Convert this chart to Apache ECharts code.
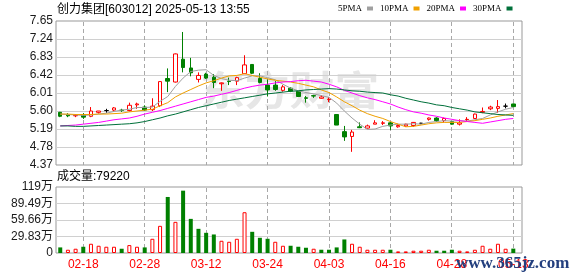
<!DOCTYPE html>
<html><head><meta charset="utf-8">
<script src="https://cdn.jsdelivr.net/npm/echarts@6/dist/echarts.min.js"></script>
<style>html,body{margin:0;padding:0;background:#fff}#c{width:578px;height:276px}</style>
</head><body><div id="c"></div>
<script>
const dates = ['02-13','02-14','02-17','02-18','02-19','02-20','02-21','02-24','02-25','02-26','02-27','02-28',
'03-03','03-04','03-05','03-06','03-07','03-10','03-11','03-12','03-13','03-14','03-17','03-18','03-19','03-20','03-21',
'03-24','03-25','03-26','03-27','03-28','03-31','04-01','04-02','04-03','04-07','04-08','04-09','04-10','04-11',
'04-14','04-15','04-16','04-17','04-18','04-21','04-22','04-23','04-24','04-25','04-28','04-29','04-30',
'05-06','05-07','05-08','05-09','05-12','05-13'];
const openP  = [5.57,5.52,5.49,5.52,5.48,5.57,5.61,5.62,5.62,5.61,5.74,5.69,5.63,5.72,6.34,6.26,6.78,6.58,6.32,6.44,
6.37,6.22,6.28,6.28,6.45,6.66,6.34,6.19,6.19,6.07,6.12,6.05,5.90,5.95,5.89,5.86,5.52,5.13,5.02,5.24,
5.21,5.30,5.32,5.33,5.24,5.26,5.27,5.32,5.41,5.44,5.38,5.36,5.30,5.40,5.43,5.57,5.65,5.66,5.71,5.76];
const closeP = [5.48,5.49,5.50,5.46,5.60,5.60,5.61,5.67,5.61,5.73,5.76,5.62,5.71,6.27,6.28,6.90,6.59,6.47,6.41,6.35,
6.25,6.24,6.27,6.36,6.65,6.46,6.25,6.08,6.09,6.15,6.05,5.93,5.89,5.94,5.92,5.87,5.28,5.01,5.12,5.22,
5.26,5.33,5.33,5.26,5.27,5.30,5.34,5.32,5.44,5.38,5.43,5.30,5.33,5.41,5.53,5.59,5.69,5.70,5.71,5.70];
const lowP   = [5.46,5.46,5.46,5.42,5.46,5.54,5.56,5.58,5.58,5.59,5.65,5.60,5.60,5.69,6.03,6.25,6.48,6.39,6.25,6.33,
6.12,6.06,6.19,6.19,6.44,6.44,6.23,5.93,6.06,6.04,6.03,5.92,5.79,5.90,5.88,5.80,5.28,4.92,4.67,5.21,
5.20,5.30,5.28,5.17,5.22,5.24,5.24,5.30,5.38,5.35,5.34,5.29,5.27,5.36,5.42,5.55,5.62,5.56,5.66,5.69];
const highP  = [5.58,5.55,5.53,5.55,5.69,5.60,5.65,5.69,5.65,5.79,5.79,5.73,5.89,6.27,6.57,6.91,7.40,6.81,6.48,6.47,
6.44,6.25,6.36,6.38,6.87,6.67,6.46,6.32,6.28,6.19,6.14,6.06,5.94,5.97,5.96,5.92,5.52,5.26,5.17,5.34,
5.29,5.39,5.37,5.35,5.31,5.31,5.35,5.33,5.45,5.46,5.45,5.37,5.41,5.46,5.54,5.68,5.72,5.85,5.77,5.77];
const ma5  = [5.53,5.52,5.51,5.50,5.51,5.53,5.55,5.59,5.62,5.64,5.68,5.68,5.69,5.82,5.93,6.16,6.35,6.50,6.53,6.54,
6.41,6.34,6.30,6.29,6.35,6.40,6.40,6.36,6.31,6.21,6.12,6.06,6.02,5.99,5.95,5.91,5.78,5.60,5.44,5.30,
5.18,5.19,5.25,5.28,5.30,5.30,5.31,5.30,5.34,5.36,5.38,5.37,5.38,5.37,5.40,5.43,5.51,5.58,5.64,5.68];
const ma10 = [5.53,5.53,5.52,5.52,5.52,5.53,5.53,5.54,5.55,5.58,5.60,5.62,5.64,5.72,5.79,5.92,6.01,6.09,6.17,6.24,
6.29,6.35,6.40,6.41,6.45,6.41,6.37,6.33,6.30,6.28,6.26,6.23,6.19,6.15,6.08,6.02,5.92,5.81,5.72,5.62,
5.54,5.48,5.43,5.36,5.30,5.24,5.25,5.28,5.31,5.33,5.34,5.34,5.34,5.36,5.38,5.41,5.44,5.48,5.51,5.54];
const ma20 = [5.26,5.27,5.28,5.30,5.32,5.34,5.37,5.40,5.42,5.44,5.48,5.53,5.57,5.61,5.66,5.71,5.76,5.81,5.86,5.91,
5.94,5.98,6.02,6.07,6.12,6.16,6.19,6.21,6.24,6.26,6.27,6.29,6.30,6.28,6.26,6.21,6.15,6.07,6.01,5.95,
5.90,5.86,5.81,5.76,5.69,5.63,5.58,5.55,5.51,5.48,5.44,5.41,5.38,5.36,5.34,5.32,5.35,5.38,5.41,5.43];
const ma30 = [5.26,5.26,5.25,5.25,5.26,5.27,5.28,5.29,5.30,5.31,5.33,5.36,5.40,5.44,5.49,5.53,5.58,5.63,5.68,5.72,
5.76,5.80,5.84,5.87,5.90,5.93,5.96,5.99,6.01,6.03,6.05,6.06,6.08,6.09,6.10,6.11,6.10,6.08,6.06,6.05,
6.03,6.02,6.01,5.97,5.94,5.89,5.85,5.81,5.78,5.74,5.72,5.68,5.65,5.62,5.58,5.56,5.54,5.52,5.51,5.50];
const volume = [10.1,5.9,7.7,11.3,16.7,13.1,11.3,11.3,7.7,14.3,11.3,10.1,25.7,49.1,101.3,56.3,112.7,61.7,43.7,36.5,
33.5,22.1,20.3,25.7,73.7,38.3,27.5,25.7,20.3,13.1,13.1,11.3,9.5,7.7,5.9,5.9,10.1,24.5,16.7,11.3,
5.9,5.9,5.9,5.9,2.9,2.9,4.1,4.1,5.9,4.1,4.1,5.9,4.1,2.9,5.9,13.1,7.7,16.7,7.7,7.92];
const volUp = [0,1,1,0,1,1,1,1,0,1,1,0,1,1,0,1,0,0,0,0,0,1,1,1,1,0,0,0,1,1,
0,0,0,1,0,0,0,0,1,1,1,1,1,0,1,1,1,1,1,0,0,0,1,1,1,1,1,1,1,0];
const priceTicks = ['4.37','4.78','5.19','5.60','6.01','6.42','6.83','7.24','7.65'];
const volTicks = ['0','29.83万','59.66万','89.49万','119万'];
const priceMin = 4.37, priceMax = 7.65, volMax = 119.32;
const maNames = ['5PMA','10PMA','20PMA','30PMA'];

const chart = echarts.init(document.getElementById('c'), null, {renderer: 'canvas'});
const FONT = 'Liberation Sans, Arial, Noto Sans CJK SC, sans-serif';
const BG_L = 56, BG_R = 56;
const PL = 56.4, BW = 7.679;
const PR = 578 - PL - dates.length * BW;
const labelEvery = (i) => i % 8 === 3;
const labelDates = dates.filter((d, i) => labelEvery(i));

const grids = [
  {left: BG_L, right: BG_R, top: 21, height: 144, show: true, borderColor: '#999', borderWidth: 1, backgroundColor: 'transparent', outerBoundsMode: 'none'},
  {left: BG_L, right: BG_R, top: 187, height: 66, show: true, borderColor: '#999', borderWidth: 1, backgroundColor: 'transparent', outerBoundsMode: 'none'},
  {left: PL, right: PR, top: 21, height: 144, outerBoundsMode: 'none'},
  {left: PL, right: PR, top: 187, height: 66, outerBoundsMode: 'none'}
];

const texts = [
  {type: 'text', x: 57, y: 10, z: 10, style: {text: '创力集团[603012] 2025-05-13 13:55', font: '12px Liberation Sans, Noto Sans CJK SC, sans-serif', fill: '#000', verticalAlign: 'middle'}},
  {type: 'text', x: 57, y: 177, z: 10, style: {text: '成交量:79220', font: '12px Liberation Sans, Noto Sans CJK SC, sans-serif', fill: '#000', verticalAlign: 'middle'}},
  {type: 'text', x: 200, y: 90, z: 0, scaleX: 1.12, style: {text: '东方财富', font: 'bold 40px Noto Sans CJK SC, sans-serif', fill: '#e6e6e6', verticalAlign: 'middle'}},
  {type: 'text', x: 456, y: 264, z: 100, style: {text: 'www.365jz.com', font: 'bold 17px Liberation Serif, serif', fill: '#233f7e', verticalAlign: 'middle'}}
];

const option = {
  animation: false,
  backgroundColor: '#fff',
  grid: grids,
  legend: {
    data: maNames, left: 338, top: 4, align: 'right', icon: 'rect', itemWidth: 6, itemHeight: 4, itemGap: 7,
    selectedMode: false, padding: 0,
    textStyle: {fontSize: 9, fontFamily: 'Liberation Serif, serif', color: '#000'}
  },
  xAxis: [
    {gridIndex: 0, type: 'value', min: 0, max: 1, show: false, splitLine: {show: false}},
    {gridIndex: 1, type: 'value', min: 0, max: 1, show: false, splitLine: {show: false}},
    {gridIndex: 2, type: 'category', data: dates, boundaryGap: true, axisLine: {show: false},
      axisLabel: {show: false}, axisTick: {show: false}, splitLine: {show: false}},
    {gridIndex: 3, type: 'category', data: dates, boundaryGap: true, axisLine: {show: false},
      axisTick: {show: false}, splitLine: {show: false},
      axisLabel: {show: true, interval: labelEvery, color: '#ff0000', fontSize: 12, fontFamily: FONT, margin: 6, hideOverlap: false}}
  ],
  yAxis: [
    {gridIndex: 0, type: 'value', min: 0, max: 8, interval: 1, axisLine: {show: false}, axisTick: {show: false},
      splitLine: {show: true, showMinLine: false, showMaxLine: false, lineStyle: {color: '#d0d0d0', width: 1}},
      axisLabel: {formatter: (v) => priceTicks[v], color: '#1a1a1a', fontSize: 12, fontFamily: FONT, margin: 3}},
    {gridIndex: 1, type: 'value', min: 0, max: 4, interval: 1, axisLine: {show: false}, axisTick: {show: false},
      splitLine: {show: true, showMinLine: false, showMaxLine: false, lineStyle: {color: '#d0d0d0', width: 1}},
      axisLabel: {formatter: (v) => volTicks[v], color: '#1a1a1a', fontSize: 12, fontFamily: FONT, margin: 3}},
    {gridIndex: 2, type: 'value', min: priceMin, max: priceMax, show: false, splitLine: {show: false}},
    {gridIndex: 3, type: 'value', min: 0, max: volMax, show: false, splitLine: {show: false}}
  ],
  graphic: texts,
  series: [
    {type: 'candlestick', name: 'K', xAxisIndex: 2, yAxisIndex: 2, barWidth: 4, z: 3,
      data: dates.map((d, i) => [openP[i], closeP[i], lowP[i], highP[i]]),
      itemStyle: {color: '#ffffff', color0: '#008000', borderColor: '#ff0000', borderColor0: '#008000', borderColorDoji: '#000000', borderWidth: 1}},
    {type: 'line', name: maNames[0], xAxisIndex: 2, yAxisIndex: 2, data: ma5, symbol: 'none', showSymbol: false, color: '#a0a0a0', lineStyle: {color: '#a0a0a0', width: 1}, z: 4},
    {type: 'line', name: maNames[1], xAxisIndex: 2, yAxisIndex: 2, data: ma10, symbol: 'none', showSymbol: false, color: '#f0a000', lineStyle: {color: '#f0a000', width: 1}, z: 4},
    {type: 'line', name: maNames[2], xAxisIndex: 2, yAxisIndex: 2, data: ma20, symbol: 'none', showSymbol: false, color: '#ff00ff', lineStyle: {color: '#ff00ff', width: 1}, z: 4},
    {type: 'line', name: maNames[3], xAxisIndex: 2, yAxisIndex: 2, data: ma30, symbol: 'none', showSymbol: false, color: '#00703a', lineStyle: {color: '#00703a', width: 1}, z: 4},
    {type: 'bar', name: 'VOL', xAxisIndex: 3, yAxisIndex: 3, barWidth: 4, z: 3,
      data: volume.map((v, i) => ({value: v, itemStyle: volUp[i] ? {color: '#ffffff', borderColor: '#ff0000', borderWidth: 1} : {color: '#008000', borderWidth: 0}}))}
  ]
};
chart.setOption(option);

// dashed date lines, placed through the chart's own axes at each labelled date
const yTop = chart.convertToPixel({yAxisIndex: 2}, priceMax);
const yBot = chart.convertToPixel({yAxisIndex: 2}, priceMin);
const vTop = chart.convertToPixel({yAxisIndex: 3}, volMax);
const vBot = chart.convertToPixel({yAxisIndex: 3}, 0);
const lines = [];
labelDates.forEach((d) => {
  const px = chart.convertToPixel({xAxisIndex: 2}, d);
  const x = Math.round(px - 0.5) + 0.5;
  [[yTop, yBot], [vTop, vBot]].forEach(([a, b]) => {
    lines.push({type: 'line', silent: true, z: 1,
      shape: {x1: x, y1: Math.round(a) + 1, x2: x, y2: Math.round(b)},
      style: {stroke: '#a8a8a8', lineWidth: 1, lineDash: [4, 3]}});
  });
});
chart.setOption({graphic: texts.concat(lines)});
</script></body></html>
